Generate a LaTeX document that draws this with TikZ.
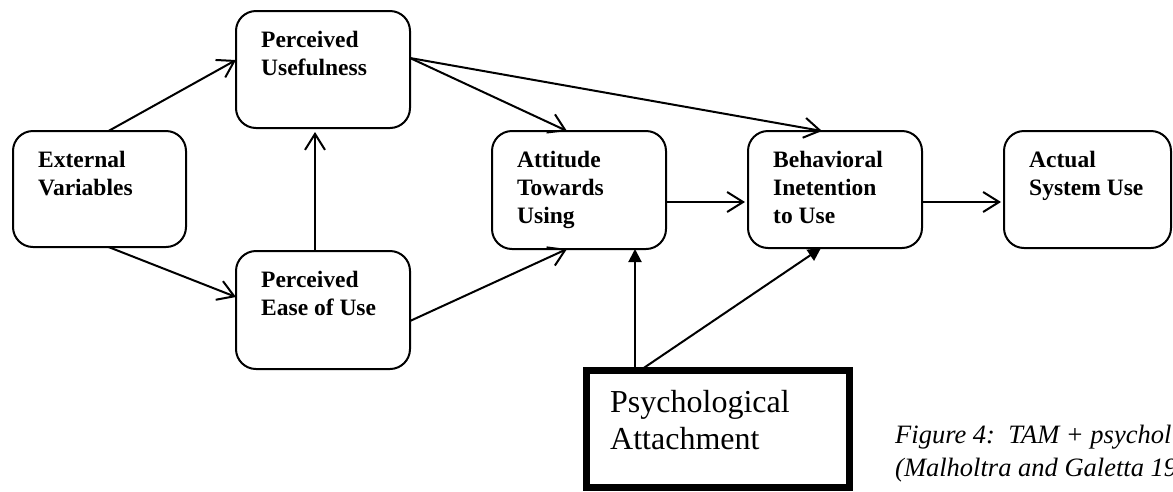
\documentclass[tikz,border=0pt]{standalone}
\usepackage{fontspec}
\setmainfont{Liberation Serif}
\usetikzlibrary{arrows.meta}
\begin{document}
\begin{tikzpicture}[x=1pt,y=-1pt,
  stage/.style={draw, line width=2pt, rounded corners=20pt, minimum width=174pt,
    minimum height=118pt, inner sep=0pt, outer sep=0pt},
  stagetext/.style={anchor=base west, align=left, inner sep=0pt,
    font=\fontsize{23.5pt}{28pt}\selectfont\bfseries},
  flow/.style={line width=2pt, -{Straight Barb[length=16pt,width=20pt,line width=2pt]}},
  push/.style={line width=2pt, -{Triangle[length=13pt,width=13pt]}},
]
\useasboundingbox (0,0) rectangle (1173,491);

% TAM stages
\node[stage, minimum width=173pt, minimum height=116pt] (ext) at (99.5,189) {};
\node[stage, minimum height=117pt] (pu) at (323,69.5) {};
\node[stage] (peou) at (323,310) {};
\node[stage] (att) at (579,190) {};
\node[stage, minimum height=117pt] (bi) at (835,189.5) {};
\node[stage, minimum width=167pt, minimum height=117pt] (asu) at (1087.5,189.5) {};

% labels are anchored on the baseline of their last line
\node[stagetext] (extT) at ([xshift=25pt,yshift=-64pt]ext.north west) {External\\Variables};
\node[stagetext] (puT) at ([xshift=25pt,yshift=-64pt]pu.north west) {Perceived\\Usefulness};
\node[stagetext] (peouT) at ([xshift=25pt,yshift=-64pt]peou.north west) {Perceived\\Ease of Use};
\node[stagetext] (attT) at ([xshift=25pt,yshift=-92pt]att.north west) {Attitude\\Towards\\Using};
\node[stagetext] (biT) at ([xshift=25pt,yshift=-92pt]bi.north west) {Behavioral\\Inetention\\to Use};
\node[stagetext] (asuT) at ([xshift=25pt,yshift=-64pt]asu.north west) {Actual\\System Use};

% added construct
\node[draw, line width=7pt, minimum width=263pt, minimum height=117pt,
  inner sep=0pt, outer sep=0pt] (psy) at (718,429) {};
\node[anchor=base west, align=left, inner sep=0pt,
  font=\fontsize{32pt}{37pt}\selectfont] (psyT) at (610,449) {Psychological\\Attachment};

% caption
\node[anchor=base west, align=left, inner sep=0pt,
  font=\fontsize{26.5pt}{33pt}\selectfont\itshape] (cap) at (895,476)
  {Figure 4:~~TAM + psychol\\(Malholtra and Galetta 19};

% TAM links
\draw[flow] ([xshift=95.5pt]ext.north west) -- ([yshift=-49pt]pu.north west);
\draw[flow] ([xshift=95.5pt]ext.south west) -- ([yshift=-46pt]peou.north west);
\draw[flow] ([xshift=79pt]peou.north west) -- ([xshift=79pt,yshift=-4pt]pu.south west);
\draw[flow] ([yshift=-70pt]peou.north east) -- ([xshift=75pt]att.south west);
\draw[flow] ([yshift=-47pt]pu.north east) -- ([xshift=75pt]att.north west);
\draw[flow] ([yshift=-47pt]pu.north east) -- ([xshift=74pt]bi.north west);
\draw[flow] ([yshift=-71pt]att.north east) -- ([xshift=-3pt,yshift=-71pt]bi.north west);
\draw[flow] ([yshift=-71pt]bi.north east) -- ([xshift=-3pt,yshift=-71pt]asu.north west);

% links from the added construct
\draw[push] ([xshift=48.5pt]psy.north west) -- ([xshift=143pt]att.south west);
\draw[push] ([xshift=53.5pt]psy.north west) -- ([xshift=73pt]bi.south west);
\end{tikzpicture}
\end{document}
